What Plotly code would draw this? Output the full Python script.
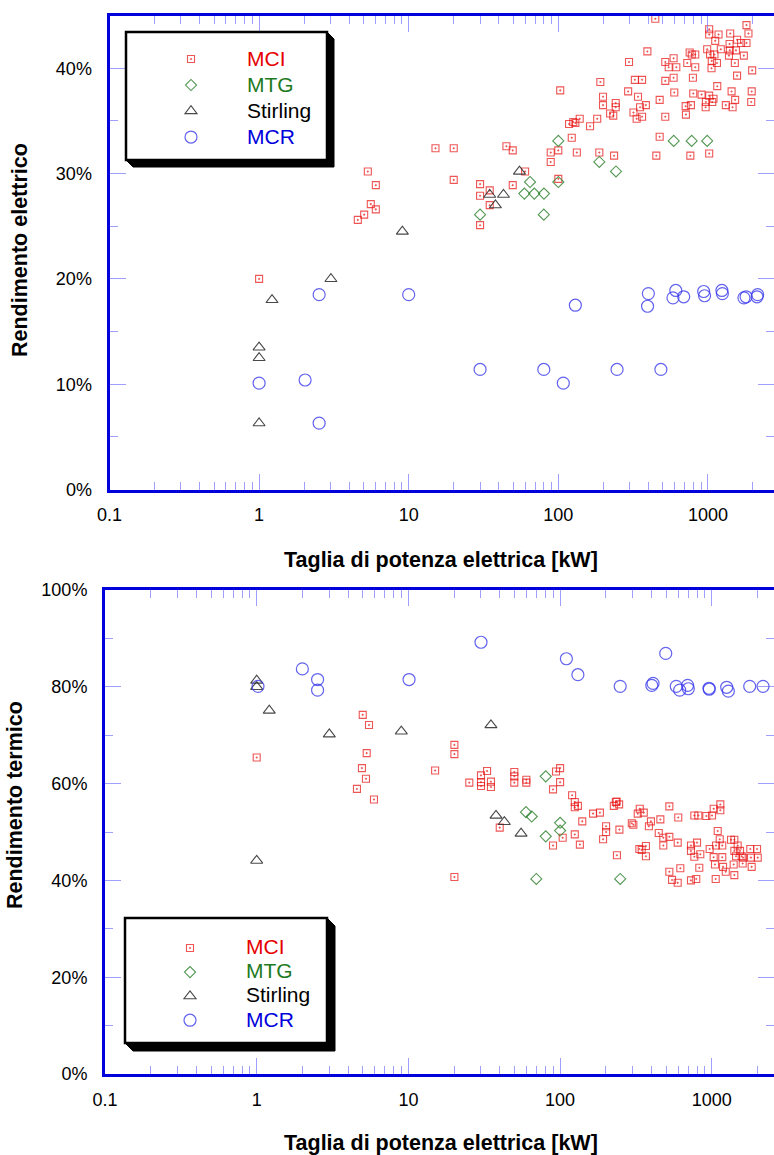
import plotly.graph_objects as go

# ---------------- Rendimento elettrico (upper panel) ----------------
mci_el_kw = [1.0, 4.57, 5.04, 5.58, 6.03, 5.33, 6.03, 15.1, 20.0, 20.0, 45.0, 49.6, 30.0, 30.0,
             34.8, 34.8, 30.0, 60.0, 49.6, 89.0, 100, 89.0, 103, 100, 123, 133, 188, 236, 118,
             126, 130, 139, 163, 182, 191, 199, 199, 222, 233, 242, 242, 293, 297, 318, 325,
             334, 341, 352, 363, 363, 385, 394, 445, 452, 476, 476, 519, 519, 519, 547, 590,
             590, 596, 615, 713, 710, 728, 755, 763, 770, 780, 794, 798, 823, 823, 907, 966,
             989, 1020, 1020, 1020, 1020, 1034, 1057, 1061, 1069, 1090, 1106, 1119, 1150,
             1155, 1178, 1220, 1318, 1383, 1396, 1402, 1409, 1440, 1462, 1514, 1521, 1540,
             1567, 1568, 1667, 1739, 1811, 1811, 1867, 1948, 1963, 1976, 970]
mci_el_pct = [20.0, 25.6, 26.1, 27.1, 26.6, 30.2, 28.9, 32.4, 32.4, 29.4, 32.6, 32.2, 29.0, 27.9,
              28.4, 27.0, 25.1, 30.2, 28.9, 32.0, 32.2, 31.1, 37.9, 29.5, 33.4, 32.0, 32.0, 31.7,
              34.7, 34.9, 34.8, 35.2, 34.5, 35.2, 38.7, 37.3, 36.5, 35.7, 35.5, 36.7, 36.3, 37.8,
              40.6, 35.8, 38.9, 35.2, 37.3, 36.3, 38.9, 35.4, 36.5, 41.6, 44.7, 31.7, 33.5, 37.0,
              40.6, 38.8, 35.4, 40.1, 40.95, 39.1, 37.7, 40.1, 35.6, 36.4, 40.5, 41.5, 31.7, 36.5,
              41.3, 39.1, 37.6, 41.3, 40.1, 37.5, 36.3, 41.8, 43.7, 43.2, 37.4, 31.9, 41.3, 40.0,
              40.7, 36.8, 37.1, 41.3, 42.6, 40.5, 38.3, 43.2, 41.8, 36.5, 41.2, 42.3, 41.7, 43.3,
              37.8, 36.3, 40.5, 37.0, 41.7, 39.3, 42.7, 42.4, 41.2, 44.1, 42.4, 43.3, 36.8, 37.8,
              39.8, 36.8]

mtg_el_kw = [30, 59.3, 64.7, 69.1, 80.2, 80, 100, 100, 188, 243, 591, 779, 989]
mtg_el_pct = [26.1, 28.1, 29.2, 28.1, 28.1, 26.1, 29.2, 33.1, 31.1, 30.2, 33.1, 33.1, 33.1]

stirling_el_kw = [1.0, 1.0, 1.0, 1.22, 3.02, 9.07, 34.8, 38, 43, 55]
stirling_el_pct = [6.3, 12.5, 13.5, 18.0, 20.0, 24.5, 28.0, 27.0, 28.0, 30.2]

mcr_el_kw = [1.0, 2.03, 2.52, 2.52, 10, 30, 80, 108, 130, 247, 395, 400, 485, 584, 610, 689,
             937, 950, 1240, 1250, 1741, 1800, 2130, 2150]
mcr_el_pct = [10.1, 10.4, 18.5, 6.3, 18.5, 11.4, 11.4, 10.1, 17.5, 11.4, 17.4, 18.6, 11.4, 18.2,
              18.9, 18.3, 18.8, 18.4, 18.9, 18.6, 18.2, 18.3, 18.3, 18.5]

# ---------------- Rendimento termico (lower panel) ----------------
mci_th_kw = [5.0, 5.5, 1.0, 5.31, 4.94, 5.25, 5.93, 4.58, 20.1, 20.1, 15.0, 25.2, 30.1, 33.0,
             30.1, 30.1, 35.0, 35.0, 49.9, 49.9, 49.9, 59.9, 59.9, 94.0, 100, 100, 89.8, 120,
             125, 131, 125, 165, 183, 140, 40.0, 104, 125, 89.8, 135, 201, 201, 192, 233, 245,
             226, 236, 246, 237, 20.1, 297, 304, 325, 356, 335, 397, 385, 333, 345, 368, 368,
             458, 525, 447, 479, 525, 479, 596, 601, 525, 547, 596, 620, 729, 729, 767, 815,
             920, 1003, 1029, 1138, 1138, 799, 840, 767, 827, 729, 790, 968, 1066, 1172, 1094,
             1128, 1029, 1172, 1050, 1186, 1236, 1061, 1339, 1408, 1481, 1408, 1445, 1535,
             1574, 1607, 1394, 1598, 1832, 1408, 1794, 1987, 1813, 2009]
mci_th_pct = [74.2, 72.1, 65.4, 66.3, 63.2, 61.0, 56.7, 58.9, 68.0, 66.1, 62.7, 60.2, 61.7, 62.6,
              60.3, 59.5, 60.4, 59.3, 62.4, 61.5, 60.2, 60.8, 60.2, 62.5, 63.2, 60.3, 58.8, 57.6,
              56.2, 55.4, 55.1, 53.8, 54.0, 52.2, 50.9, 48.8, 49.5, 47.2, 47.4, 51.2, 50.0, 48.5,
              56.2, 55.7, 55.4, 56.3, 50.5, 45.2, 40.7, 51.8, 51.5, 53.8, 54.0, 54.8, 52.2, 51.2,
              46.5, 46.3, 47.1, 45.0, 52.6, 55.3, 49.8, 48.8, 49.0, 47.2, 47.8, 53.0, 41.8, 40.1,
              39.5, 42.5, 47.2, 46.1, 53.4, 53.4, 53.3, 53.4, 54.8, 55.7, 54.5, 47.8, 45.4, 44.9,
              42.6, 40.0, 40.3, 46.5, 47.2, 47.2, 50.2, 48.5, 44.8, 44.8, 43.3, 42.8, 41.8, 40.3,
              48.4, 48.4, 47.2, 46.1, 45.0, 46.1, 45.0, 44.7, 43.3, 43.5, 42.8, 41.1, 46.5, 46.5,
              44.7, 44.7]

mtg_th_kw = [80.4, 59.6, 65.0, 100, 100, 80.4, 69.7, 249]
mtg_th_pct = [61.5, 54.1, 53.2, 51.9, 50.3, 49.1, 40.3, 40.3]

stirling_th_kw = [1.0, 1.0, 1.21, 3.01, 8.98, 35.0, 37.8, 42.9, 55.3, 1.0]
stirling_th_pct = [81.3, 80.0, 75.1, 70.2, 70.8, 72.1, 53.4, 52.1, 49.7, 44.1]

mcr_th_kw = [1.02, 2.0, 2.52, 2.52, 10.1, 30.1, 110, 131, 249, 402, 410, 497, 583, 614, 693,
             700, 959, 962, 1254, 1285, 1778, 2176]
mcr_th_pct = [80.1, 83.7, 81.5, 79.3, 81.5, 89.2, 85.8, 82.5, 80.1, 80.3, 80.7, 86.9, 80.1, 79.3,
              80.3, 79.6, 79.7, 79.5, 79.9, 79.1, 80.1, 80.1]

# ---------------- axis ticks ----------------
x_major = [0.1, 1, 10, 100, 1000]
x_major_text = ["0.1", "1", "10", "100", "1000"]
x_minor = [m * 10 ** e for e in range(-1, 4) for m in range(2, 10) if m * 10 ** e < 2800]
y_el_major = [0, 10, 20, 30, 40]
y_el_minor = [5, 15, 25, 35]
y_th_major = [0, 20, 40, 60, 80, 100]
y_th_minor = [10, 30, 50, 70, 90]

W, H = 774, 1155
FRAME = "#0000dc"
TICK = "rgba(80,80,255,0.55)"
FONT = "Liberation Sans, Arial, sans-serif"


def fx(px):
    return px / W


def fy(py):
    return 1 - py / H


series_style = {
    "MCI": dict(symbol="square-open-dot", size=7, color="rgba(232,20,20,0.72)",
                line=dict(width=1.1), text="#e60000"),
    "MTG": dict(symbol="diamond-open", size=8.5, color="rgba(40,125,40,0.8)",
                line=dict(width=1.1), text="#1e7a1e"),
    "Stirling": dict(symbol="triangle-up-open", size=10.5, color="rgba(40,40,40,0.85)",
                     line=dict(width=1.1), text="#000000"),
    "MCR": dict(symbol="circle-open", size=12, color="rgba(60,60,235,0.8)",
                line=dict(width=1.2), text="#0000dc"),
}

fig = go.Figure()

panels = [
    ("x", "y", "legend", "el", [
        ("MCI", mci_el_kw, mci_el_pct), ("MTG", mtg_el_kw, mtg_el_pct),
        ("Stirling", stirling_el_kw, stirling_el_pct), ("MCR", mcr_el_kw, mcr_el_pct)]),
    ("x2", "y2", "legend2", "th", [
        ("MCI", mci_th_kw, mci_th_pct), ("MTG", mtg_th_kw, mtg_th_pct),
        ("Stirling", stirling_th_kw, stirling_th_pct), ("MCR", mcr_th_kw, mcr_th_pct)]),
]

for xa, ya, leg, tag, groups in panels:
    for name, xs, ys in groups:
        st = series_style[name]
        fig.add_trace(go.Scatter(
            x=xs, y=ys, mode="markers", xaxis=xa, yaxis=ya, legend=leg,
            legendgroup=f"{tag}-{name}",
            name=f'<span style="color:{st["text"]};font-size:21px">{name}</span>',
            marker=dict(symbol=st["symbol"], size=st["size"], color=st["color"], line=st["line"]),
            hoverinfo="x+y",
        ))

# empty traces that carry the mirrored (top / right) tick axes
fig.add_trace(go.Scatter(x=[], y=[], xaxis="x3", yaxis="y3", showlegend=False, hoverinfo="skip"))
fig.add_trace(go.Scatter(x=[], y=[], xaxis="x4", yaxis="y4", showlegend=False, hoverinfo="skip"))


def log_axis(domain, rng, anchor, side="bottom", labels=True, overlay=None, line=True):
    d = dict(
        type="log", domain=domain, range=rng, anchor=anchor, side=side,
        tickvals=x_major, ticktext=x_major_text, showticklabels=labels,
        ticks="inside", ticklen=16, tickwidth=1, tickcolor=TICK,
        minor=dict(tickvals=x_minor, ticks="inside", ticklen=8, tickwidth=1, tickcolor=TICK,
                   showgrid=False),
        showline=line, linecolor=FRAME, linewidth=3, showgrid=False, zeroline=False,
        tickfont=dict(size=18, color="black", family=FONT), ticklabelstandoff=7,
        automargin=False,
    )
    if overlay:
        d["overlaying"] = overlay
    return d


def lin_axis(domain, rng, anchor, major, minor, side="left", labels=True, overlay=None, line=True):
    d = dict(
        domain=domain, range=rng, anchor=anchor, side=side,
        tickvals=major, ticktext=[f"{v}%" for v in major], showticklabels=labels,
        ticks="inside", ticklen=16, tickwidth=1, tickcolor=TICK,
        minor=dict(tickvals=minor, ticks="inside", ticklen=8, tickwidth=1, tickcolor=TICK,
                   showgrid=False),
        showline=line, linecolor=FRAME, linewidth=3, showgrid=False, zeroline=False,
        tickfont=dict(size=18, color="black", family=FONT), ticklabelstandoff=11,
        automargin=False,
    )
    if overlay:
        d["overlaying"] = overlay
    return d


top_x_dom = [fx(109.5), 1]
top_x_rng = [-1, -1 + (W - 109.5) / 149.6]
top_y_dom = [fy(489.5), fy(15.6)]
bot_x_dom = [fx(105), 1]
bot_x_rng = [-1, -1 + (W - 105) / 151.7]
bot_y_dom = [fy(1074), fy(590)]

fig.update_layout(
    xaxis=log_axis(top_x_dom, top_x_rng, "y"),
    yaxis=lin_axis(top_y_dom, [0, 45], "x", y_el_major, y_el_minor),
    xaxis3=log_axis(top_x_dom, top_x_rng, "y", side="top", labels=False, overlay="x"),
    yaxis3=lin_axis(top_y_dom, [0, 45], "x", y_el_major, y_el_minor, side="right",
                    labels=False, overlay="y", line=False),
    xaxis2=log_axis(bot_x_dom, bot_x_rng, "y2"),
    yaxis2=lin_axis(bot_y_dom, [0, 100], "x2", y_th_major, y_th_minor),
    xaxis4=log_axis(bot_x_dom, bot_x_rng, "y2", side="top", labels=False, overlay="x2"),
    yaxis4=lin_axis(bot_y_dom, [0, 100], "x2", y_th_major, y_th_minor, side="right",
                    labels=False, overlay="y2", line=False),
)


def legend_box(left, top, right, bottom, off):
    # drop shadow with bevelled corners, then the white framed box
    shadow = (f"M {fx(left)} {fy(bottom)} L {fx(left + off)} {fy(bottom + off)} "
              f"L {fx(right + off)} {fy(bottom + off)} L {fx(right + off)} {fy(top + off)} "
              f"L {fx(right)} {fy(top)} Z")
    return [
        dict(type="path", xref="paper", yref="paper", path=shadow,
             fillcolor="black", line=dict(color="black", width=1), layer="above"),
        dict(type="rect", xref="paper", yref="paper", x0=fx(left), x1=fx(right),
             y0=fy(bottom), y1=fy(top), fillcolor="white",
             line=dict(color="black", width=2.5), layer="above"),
    ]


shapes = legend_box(126, 32, 327, 160, 7) + legend_box(125, 918, 327, 1043, 8)


def title(text, x, y, angle=0):
    return dict(text=f"<b>{text}</b>", xref="paper", yref="paper", x=fx(x), y=fy(y),
                xanchor="center", yanchor="middle", textangle=angle, showarrow=False,
                font=dict(size=21.5, family=FONT, color="black"))


fig.update_layout(
    width=W, height=H, margin=dict(l=0, r=0, t=0, b=0),
    paper_bgcolor="white", plot_bgcolor="white",
    font=dict(family=FONT, color="black"),
    showlegend=True,
    shapes=shapes,
    legend=dict(x=fx(135), xanchor="left", y=fy(41), yanchor="top",
                bgcolor="rgba(0,0,0,0)", borderwidth=0, itemwidth=102,
                font=dict(size=17.7, family=FONT), tracegroupgap=0, itemclick=False),
    legend2=dict(x=fx(134), xanchor="left", y=fy(931), yanchor="top",
                 bgcolor="rgba(0,0,0,0)", borderwidth=0, itemwidth=102,
                 font=dict(size=16.2, family=FONT), tracegroupgap=0, itemclick=False),
    annotations=[
        title("Rendimento elettrico", 20, 250, -90),
        title("Taglia di potenza elettrica [kW]", 441, 560),
        title("Rendimento termico", 15, 805, -90),
        title("Taglia di potenza elettrica [kW]", 441, 1143),
    ],
)

fig.write_html("out.html")
